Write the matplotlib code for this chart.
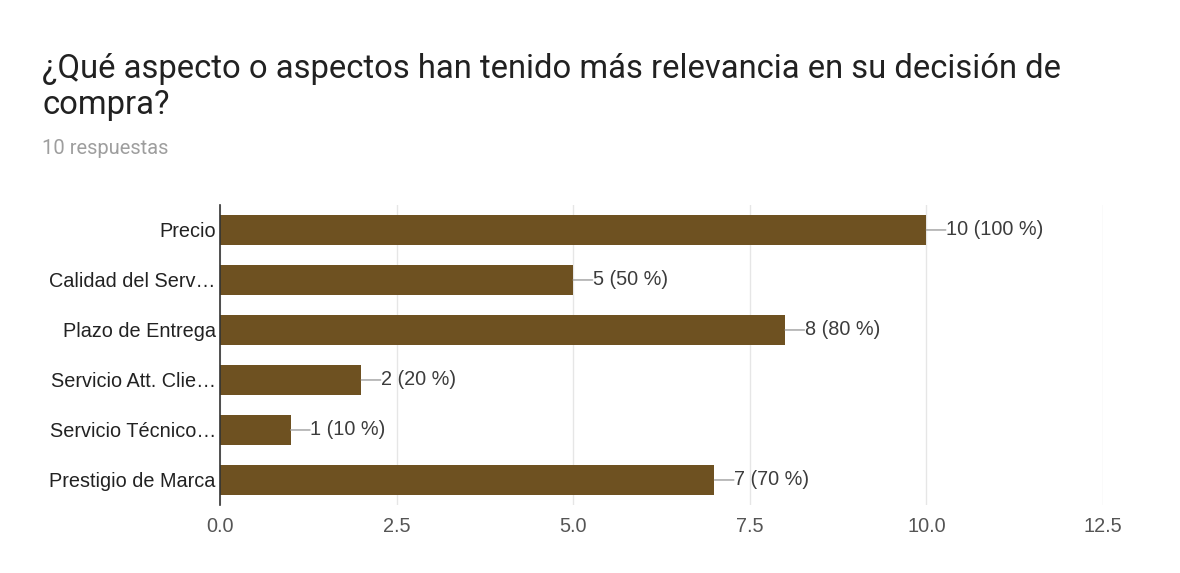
import matplotlib.pyplot as plt

# respuestas de la encuesta
aspectos = ["Precio", "Calidad del Serv…", "Plazo de Entrega",
            "Servicio Att. Clie…", "Servicio Técnico…", "Prestigio de Marca"]
votos = [10, 5, 8, 2, 1, 7]
total = 10
ticks = [0.0, 2.5, 5.0, 7.5, 10.0, 12.5]

bar_color = "#6e5121"
label_font = "Liberation Sans"

fig = plt.figure(figsize=(11.8, 5.73), dpi=100)
fig.patch.set_facecolor("white")

fig.text(0.036, 1 - 78 / 573, "¿Qué aspecto o aspectos han tenido más relevancia en su decisión de",
         fontsize=23.6, family="Roboto", color="#212121", va="baseline")
fig.text(0.036, 1 - 114 / 573, "compra?",
         fontsize=23.6, family="Roboto", color="#212121", va="baseline")
fig.text(0.036, 1 - 154 / 573, "10 respuestas", fontsize=14.5, family="Roboto",
         color="#9e9e9e", va="baseline")

ax = fig.add_axes([0.1864, 0.1187, 0.7483, 0.5236])
y = list(range(len(aspectos)))
ax.barh(y, votos, height=0.6, color=bar_color, zorder=3)

for yi, v in zip(y, votos):
    ax.annotate(f"{v} ({v * 100 // total} %)", xy=(v, yi), xytext=(14, 0),
                textcoords="offset points", va="center", ha="left",
                fontsize=14.3, family=label_font, color="#3c3c3c",
                bbox=dict(boxstyle="square,pad=0", fc="none", ec="none"),
                arrowprops=dict(arrowstyle="-", color="#9e9e9e", lw=1,
                                shrinkA=0, shrinkB=0))

ax.set_xlim(0, 12.5)
ax.set_ylim(5.5, -0.5)
ax.set_yticks(y)
ax.set_yticklabels(aspectos, fontsize=14.3, family=label_font, color="#222222")
ax.set_xticks(ticks)
ax.set_xticklabels([f"{t:.1f}" for t in ticks], fontsize=14.3, family=label_font,
                   color="#555555")
ax.tick_params(axis="both", length=0)
ax.tick_params(axis="x", pad=9)
ax.tick_params(axis="y", pad=3)
ax.grid(axis="x", color="#e6e6e6", lw=1, zorder=0)
for s in ["top", "right", "bottom"]:
    ax.spines[s].set_visible(False)
ax.spines["left"].set_color("#333333")
ax.spines["left"].set_linewidth(1.2)
ax.spines["left"].set_zorder(4)

fig.savefig("out.png", dpi=100, facecolor="white")
